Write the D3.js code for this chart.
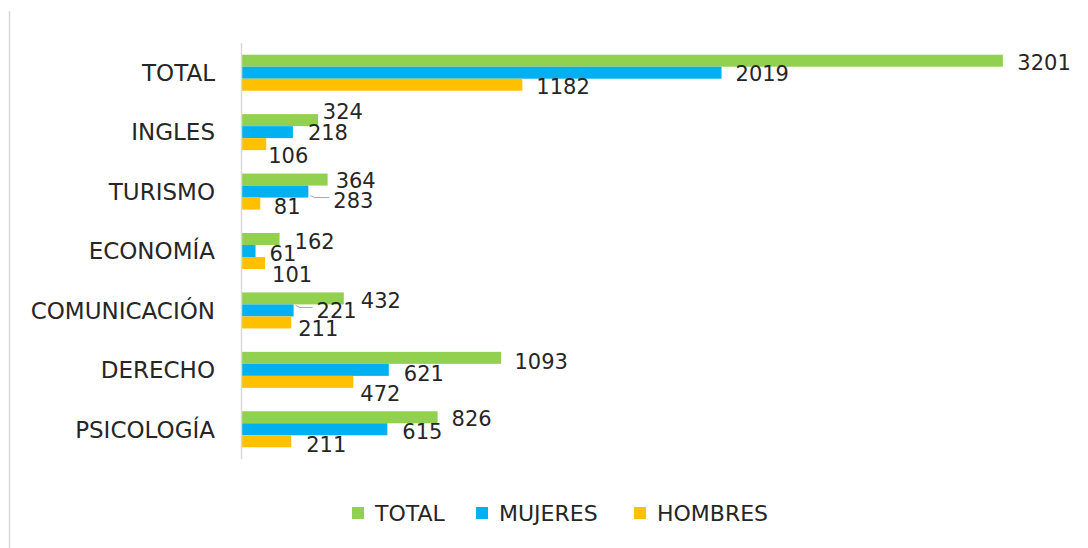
<!DOCTYPE html>
<meta charset="utf-8">
<style>
    html, body {
        margin: 0;
        background: #fff;
    }

    text {
        font-family: "DejaVu Sans", sans-serif;
        fill: #262626;
    }

    .cat-label {
        font-size: 23px;
    }

    .val-label {
        font-size: 21px;
    }

    .legend text {
        font-size: 22px;
    }

</style>
<div id="container"></div>
<script src="https://d3js.org/d3.v7.min.js"></script>
<script>
    // chart data
    var categories = ["TOTAL", "INGLES", "TURISMO", "ECONOMÍA", "COMUNICACIÓN", "DERECHO", "PSICOLOGÍA"];
    var seriesNames = ["TOTAL", "MUJERES", "HOMBRES"];
    var total   = [3201, 324, 364, 162, 432, 1093, 826];
    var mujeres = [2019, 218, 283, 61, 221, 621, 615];
    var hombres = [1182, 106, 81, 101, 211, 472, 211];

    var colors = ["#92d050", "#00b0f0", "#ffc000"];

    // label nudges (dx from bar end, dy from bar centre), the way excel moved them around
    var labelNudge = [
        [[14.5, 2], [4.7, -9], [8, 0.5], [15, 2.5], [17, 2.5], [13.3, 3.5], [14, 1.5]],
        [[14, 1], [15, 0], [25, 9], [14, 2.5], [23, 0], [15, 3.5], [15, 2]],
        [[14, 2], [2, 11], [13.5, 3], [7, 11], [7, 6], [7, 11.5], [15, 3]]
    ];

    var W = 1088, H = 548;
    var svg = d3.select("#container")
        .append("svg")
        .attr("width", W)
        .attr("height", H);

    // left edge of the chart frame
    svg.append("line")
        .attr("x1", 9.5).attr("x2", 9.5)
        .attr("y1", 11).attr("y2", H)
        .attr("stroke", "#d9d9d9")
        .attr("stroke-width", 1.5);

    // scales
    var x = d3.scaleLinear()
        .domain([0, 3500])
        .range([241, 1074]);

    var y = d3.scaleBand()
        .domain(categories)
        .range([43, 459])
        .paddingInner(0.394)
        .paddingOuter(0.197);

    var ySub = d3.scaleBand()
        .domain(seriesNames)
        .range([0, y.bandwidth()]);

    var seriesValues = [total, mujeres, hombres];

    // one row per bar
    var rows = [];
    seriesValues.forEach(function(vals, s) {
        vals.forEach(function(v, i) {
            rows.push({ s: s, cat: categories[i], i: i, value: v });
        });
    });

    // bars
    svg.append("g")
        .selectAll("rect")
        .data(rows)
        .enter().append("rect")
        .attr("x", x(0))
        .attr("y", function(d) { return y(d.cat) + ySub(seriesNames[d.s]); })
        .attr("width", function(d) { return x(d.value) - x(0); })
        .attr("height", ySub.bandwidth())
        .attr("fill", function(d) { return colors[d.s]; });

    // category axis line
    svg.append("line")
        .attr("x1", x(0) + 0.5).attr("x2", x(0) + 0.5)
        .attr("y1", 43).attr("y2", 459)
        .attr("stroke", "#d9d9d9")
        .attr("stroke-width", 1.5);

    // category labels
    svg.append("g")
        .selectAll("text")
        .data(categories)
        .enter().append("text")
        .attr("class", "cat-label")
        .attr("x", 215)
        .attr("y", function(d) { return y(d) + y.bandwidth() / 2; })
        .attr("dy", "0.36em")
        .attr("text-anchor", "end")
        .text(function(d) { return d; });

    // value labels and leader lines
    function labelX(d) { return x(d.value) + labelNudge[d.s][d.i][0]; }
    function labelY(d) {
        return y(d.cat) + ySub(seriesNames[d.s]) + ySub.bandwidth() / 2 + labelNudge[d.s][d.i][1];
    }

    svg.append("g")
        .selectAll("polyline")
        .data(rows.filter(function(d) { return labelNudge[d.s][d.i][0] > 20; }))
        .enter().append("polyline")
        .attr("fill", "none")
        .attr("stroke", "#a6a6a6")
        .attr("stroke-width", 1)
        .attr("points", function(d) {
            var x0 = x(d.value) + 2, x1 = labelX(d) - 4, yy = labelY(d) - 3;
            return [[x0, yy - 2], [x0 + 4, yy], [x1, yy]].join(" ");
        });

    svg.append("g")
        .selectAll("text")
        .data(rows)
        .enter().append("text")
        .attr("class", "val-label")
        .attr("x", labelX)
        .attr("y", labelY)
        .attr("dy", "0.36em")
        .text(function(d) { return d.value; });

    // legend
    var legendX = [352, 476, 634];
    var legend = svg.append("g")
        .attr("class", "legend")
        .selectAll("g")
        .data(seriesNames)
        .enter().append("g")
        .attr("transform", function(d, i) { return "translate(" + legendX[i] + ",513)"; });

    legend.append("rect")
        .attr("x", 0)
        .attr("y", -6)
        .attr("width", 12)
        .attr("height", 12)
        .attr("fill", function(d, i) { return colors[i]; });

    legend.append("text")
        .attr("x", 23)
        .attr("dy", "0.36em")
        .text(function(d) { return d; });
</script>
